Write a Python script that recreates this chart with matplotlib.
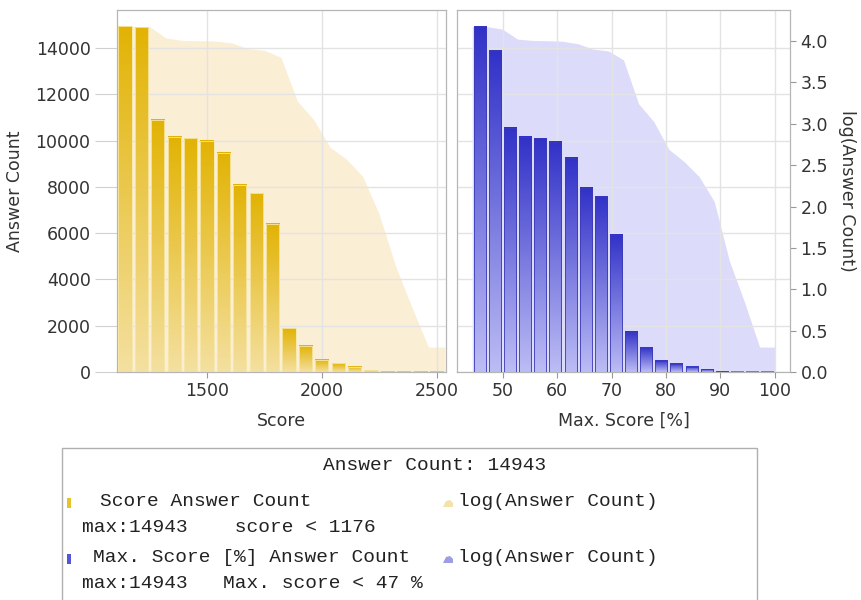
import numpy as np
import matplotlib.pyplot as plt
from matplotlib.patches import Rectangle, Polygon
from matplotlib.colors import LinearSegmentedColormap

# bin edges (score and % of max score) and answer counts per bin
score_edges = [1105, 1176.5, 1248, 1319.5, 1391, 1462.5, 1534, 1605.5, 1677, 1748.5,
               1820, 1891.5, 1963, 2034.5, 2106, 2177.5, 2249, 2320.5, 2392, 2463.5, 2535]
score_counts = [14943, 14900, 10890, 10170, 10100, 9995, 9480, 8080, 7720, 6395,
                1890, 1125, 520, 375, 230, 80, 19, 6, 2, 2]

pct_edges = [44.4, 47.18, 49.96, 52.74, 55.52, 58.3, 61.08, 63.86, 66.64, 69.42,
             72.2, 74.98, 77.76, 80.54, 83.32, 86.1, 88.88, 91.66, 94.44, 97.22, 100.0]
pct_counts = [14943, 13910, 10550, 10160, 10090, 9940, 9250, 7970, 7600, 5920,
              1740, 1065, 490, 350, 230, 115, 22, 7, 2, 2]

score_ticks = [1500, 2000, 2500]
pct_ticks = [50, 60, 70, 80, 90, 100]
count_ticks = [0, 2000, 4000, 6000, 8000, 10000, 12000, 14000]
log_ticks = [0.0, 0.5, 1.0, 1.5, 2.0, 2.5, 3.0, 3.5, 4.0]

W, H = 861, 600
GRID = '#e3e3e3'
SPINE = '#b5b5b5'
TXT = '#333333'
FS = 12.5


def fx(px):
    return px / W


def fy(py):
    return 1 - py / H


def draw_panel(ax_log, edges, counts, top, bottom, area, edge, xlim, xticks, left):
    edges = np.asarray(edges, dtype=float)
    counts = np.asarray(counts, dtype=float)
    centers = (edges[:-1] + edges[1:]) / 2
    widths = np.diff(edges)
    logs = np.log10(counts)

    ax_cnt = ax_log.twinx()

    # log(Answer Count) area behind the bars, plotted at each bin's upper bound
    xs = np.concatenate([[edges[0]], edges[1:]])
    ys = np.concatenate([[logs[0]], logs])
    ax_log.fill_between(xs, 0, ys, color=area, lw=0, zorder=1)

    # gradient bars
    cmap = LinearSegmentedColormap.from_list('g', [bottom, top])
    grad = np.linspace(0, 1, 128).reshape(-1, 1)
    bars = ax_cnt.bar(centers, counts, width=widths * 0.8, color='none',
                      edgecolor=edge, lw=0.6, zorder=3)
    for b in bars:
        x0, w, h = b.get_x(), b.get_width(), b.get_height()
        ax_cnt.imshow(grad, cmap=cmap, origin='lower', aspect='auto',
                      extent=(x0, x0 + w, 0, h), zorder=2.5, interpolation='bilinear')

    ax_log.set_xlim(*xlim)
    ax_log.set_ylim(0, 4.375)
    ax_cnt.set_ylim(0, 15640)
    ax_cnt.set_xlim(*xlim)
    ax_cnt.set_aspect('auto')

    ax_log.set_xticks(xticks)
    ax_log.set_yticks(log_ticks)
    ax_log.set_yticklabels([f'{t:.1f}' for t in log_ticks])
    ax_cnt.set_yticks(count_ticks)

    ax_log.grid(True, axis='x', color=GRID, lw=1)
    ax_log.set_axisbelow(False)
    ax_cnt.grid(True, axis='y', color=GRID, lw=1)
    ax_cnt.set_axisbelow(True)

    for a in (ax_log, ax_cnt):
        for s in a.spines.values():
            s.set_color(SPINE)
        a.tick_params(length=4, color='#999999', labelcolor=TXT, labelsize=FS)

    ax_log.yaxis.tick_right()
    ax_log.yaxis.set_label_position('right')
    ax_cnt.yaxis.tick_left()
    ax_cnt.yaxis.set_label_position('left')

    if left:
        ax_log.tick_params(axis='y', right=False, labelright=False)
        ax_cnt.tick_params(axis='y', length=16, color='#d0d0d0', pad=3)
        ax_cnt.set_ylabel('Answer Count', fontsize=FS, color=TXT, labelpad=8)
    else:
        ax_cnt.tick_params(axis='y', left=False, labelleft=False)
        ax_log.set_ylabel('log(Answer Count)', fontsize=FS, color=TXT,
                          rotation=270, labelpad=20)
    return ax_cnt


fig = plt.figure(figsize=(W / 100, H / 100), dpi=100)

ax1 = fig.add_axes([fx(117), fy(372), fx(446 - 117), (372 - 10) / H])
ax2 = fig.add_axes([fx(457), fy(372), fx(790 - 457), (372 - 10) / H])

draw_panel(ax1, score_edges, score_counts, '#e2b304', '#f4e0a0', '#faeed5',
           '#f7e7a8', (1106, 2540), score_ticks, True)
draw_panel(ax2, pct_edges, pct_counts, '#3131c8', '#bcbcf5', '#dcdcfa',
           '#3a3ab8', (41.6, 102.8), pct_ticks, False)

ax1.set_xlabel('Score', fontsize=FS, color=TXT, labelpad=8)
ax2.set_xlabel('Max. Score [%]', fontsize=FS, color=TXT, labelpad=8)

# legend box
fig.patches.append(Rectangle((fx(62), -0.05), fx(757 - 62), fy(448) + 0.05,
                             transform=fig.transFigure, facecolor='white',
                             edgecolor='#b0b0b0', lw=1))

mono = dict(family='Liberation Mono', fontsize=14, color='#222222', va='center')
fig.text(fx(435), fy(466), f'Answer Count: {max(score_counts)}', ha='center', **mono)

fig.patches.append(Rectangle((fx(67), fy(508)), fx(4), 10 / H, transform=fig.transFigure,
                             facecolor='#e6c22c', lw=0))
fig.text(fx(100), fy(501), 'Score Answer Count', ha='left', **mono)
fig.patches.append(Polygon([(fx(443), fy(507)), (fx(446), fy(501)), (fx(450), fy(500)),
                            (fx(453), fy(503)), (fx(453), fy(507))],
                           transform=fig.transFigure, facecolor='#f3e3a6', lw=0))
fig.text(fx(458), fy(501), 'log(Answer Count)', ha='left', **mono)
fig.text(fx(82), fy(527), f'max:{max(score_counts)}    score < {int(score_edges[1])}',
         ha='left', **mono)

fig.patches.append(Rectangle((fx(67), fy(564)), fx(4), 10 / H, transform=fig.transFigure,
                             facecolor='#5555d8', lw=0))
fig.text(fx(93), fy(558), 'Max. Score [%] Answer Count', ha='left', **mono)
fig.patches.append(Polygon([(fx(443), fy(563)), (fx(446), fy(557)), (fx(450), fy(556)),
                            (fx(453), fy(559)), (fx(453), fy(563))],
                           transform=fig.transFigure, facecolor='#9d9de6', lw=0))
fig.text(fx(458), fy(558), 'log(Answer Count)', ha='left', **mono)
fig.text(fx(82), fy(584), f'max:{max(pct_counts)}   Max. score < {round(pct_edges[1])} %',
         ha='left', **mono)

fig.savefig('out.png', dpi=100)
